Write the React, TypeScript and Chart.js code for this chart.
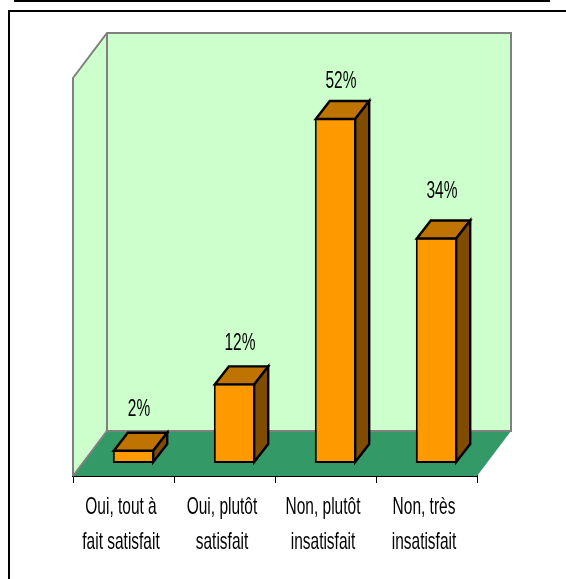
import React, { useEffect, useRef } from "react";
import { Chart, registerables } from "chart.js";

Chart.register(...registerables);

const categories = [
  ["Oui, tout à", "fait satisfait"],
  ["Oui, plutôt", "satisfait"],
  ["Non, plutôt", "insatisfait"],
  ["Non, très", "insatisfait"],
];
const percentages = [2, 12, 52, 34];
const axisMax = 60;
const labelLifts = [34, 33, 30, 39];

const FONT = "'Liberation Sans', Arial, sans-serif";
const FONT_SIZE = 24;
const TEXT_SQUEEZE = 0.645;
const wallDepth = { dx: 34, dy: -45 };
const barOffset = { dx: 10, dy: -13 };
const barDepth = { dx: 14, dy: -18 };

function poly(ctx: CanvasRenderingContext2D, pts: number[][], fill?: string, stroke?: string, lw = 2.4) {
  ctx.beginPath();
  pts.forEach(([x, y], i) => (i ? ctx.lineTo(x, y) : ctx.moveTo(x, y)));
  ctx.closePath();
  if (fill) { ctx.fillStyle = fill; ctx.fill(); }
  if (stroke) { ctx.strokeStyle = stroke; ctx.lineWidth = lw; ctx.lineJoin = "miter"; ctx.stroke(); }
}

function squeezedText(ctx: CanvasRenderingContext2D, text: string, x: number, y: number) {
  ctx.save();
  ctx.translate(x, y);
  ctx.scale(TEXT_SQUEEZE, 1);
  ctx.fillStyle = "#000000";
  ctx.font = `${FONT_SIZE}px ${FONT}`;
  ctx.textAlign = "center";
  ctx.textBaseline = "alphabetic";
  ctx.fillText(text, 0, 0);
  ctx.restore();
}

const scene3d = {
  id: "scene3d",
  beforeDraw(chart: any) {
    const { ctx, width, height } = chart;
    ctx.save();
    ctx.fillStyle = "#ffffff";
    ctx.fillRect(0, 0, width, height);
    ctx.fillStyle = "#000000";
    ctx.fillRect(14, 0, 536, 2);
    ctx.fillRect(8, 10, width - 8, 2);
    ctx.fillRect(8, 10, 2, height - 10);
    ctx.restore();
  },
  beforeDatasetsDraw(chart: any) {
    const { ctx, chartArea: a } = chart;
    const { dx, dy } = wallDepth;
    ctx.save();
    poly(ctx, [[a.left, a.bottom], [a.left, a.top], [a.left + dx, a.top + dy], [a.left + dx, a.bottom + dy]], "#CCFFCC");
    poly(ctx, [[a.left + dx, a.top + dy], [a.right + dx, a.top + dy], [a.right + dx, a.bottom + dy], [a.left + dx, a.bottom + dy]], "#CCFFCC");
    poly(ctx, [[a.left, a.bottom], [a.left + dx, a.bottom + dy], [a.right + dx, a.bottom + dy], [a.right, a.bottom]], "#339966");
    ctx.strokeStyle = "#808080";
    ctx.lineWidth = 2;
    ctx.beginPath();
    ctx.moveTo(a.left, a.bottom);
    ctx.lineTo(a.left, a.top);
    ctx.lineTo(a.left + dx, a.top + dy);
    ctx.lineTo(a.right + dx, a.top + dy);
    ctx.lineTo(a.right + dx, a.bottom + dy);
    ctx.lineTo(a.left + dx, a.bottom + dy);
    ctx.lineTo(a.left, a.bottom);
    ctx.moveTo(a.left + dx, a.top + dy);
    ctx.lineTo(a.left + dx, a.bottom + dy);
    ctx.stroke();
    ctx.restore();
    ctx.save();
    ctx.translate(barOffset.dx, barOffset.dy);
  },
  afterDatasetsDraw(chart: any) {
    const { ctx } = chart;
    const meta = chart.getDatasetMeta(0);
    const { dx, dy } = barDepth;
    meta.data.forEach((bar: any, i: number) => {
      const half = bar.width / 2;
      const l = bar.x - half + 1;
      const r = bar.x + half - 1;
      const t = bar.y + 1;
      const b = bar.base - 1;
      poly(ctx, [[l, t], [l + dx, t + dy], [r + dx, t + dy], [r, t]], "#BF7300", "#000000");
      poly(ctx, [[r, t], [r + dx, t + dy], [r + dx, b + dy], [r, b]], "#7F4C00", "#000000");
      squeezedText(ctx, `${percentages[i]}%`, bar.x + 5.5, bar.y - labelLifts[i]);
    });
    ctx.restore();
    const xScale = chart.scales.x;
    const axisY = chart.chartArea.bottom;
    categories.forEach((lines, i) => {
      const cx = xScale.getPixelForTick(i) - 2.5;
      lines.forEach((line, j) => squeezedText(ctx, line, cx, axisY + 38 + j * 35));
    });
  },
};

export default function App() {
  const ref = useRef<HTMLCanvasElement>(null);
  useEffect(() => {
    const chart = new Chart(ref.current!, {
      type: "bar",
      data: {
        labels: categories,
        datasets: [
          {
            data: percentages,
            backgroundColor: "#FF9900",
            borderColor: "#000000",
            borderWidth: 2,
            borderSkipped: false,
            categoryPercentage: 1,
            barPercentage: 0.41,
          },
        ],
      },
      options: {
        animation: false,
        responsive: false,
        layout: { padding: { left: 73, right: 89, top: 78, bottom: 0 } },
        plugins: { legend: { display: false }, tooltip: { enabled: false }, title: { display: false } },
        scales: {
          x: {
            afterFit: (s: any) => { s.height = 103; },
            grid: { drawOnChartArea: false, drawTicks: true, tickLength: 7, color: "#000000", lineWidth: 1 },
            border: { color: "#000000", width: 2 },
            ticks: { display: false },
          },
          y: { display: false, min: 0, max: axisMax },
        },
      },
      plugins: [scene3d],
    } as any);
    return () => chart.destroy();
  }, []);
  return (
    <div style={{ position: "fixed", left: 0, top: 0, width: 566, height: 579 }}>
      <canvas ref={ref} width={566} height={579} style={{ display: "block" }} />
    </div>
  );
}
